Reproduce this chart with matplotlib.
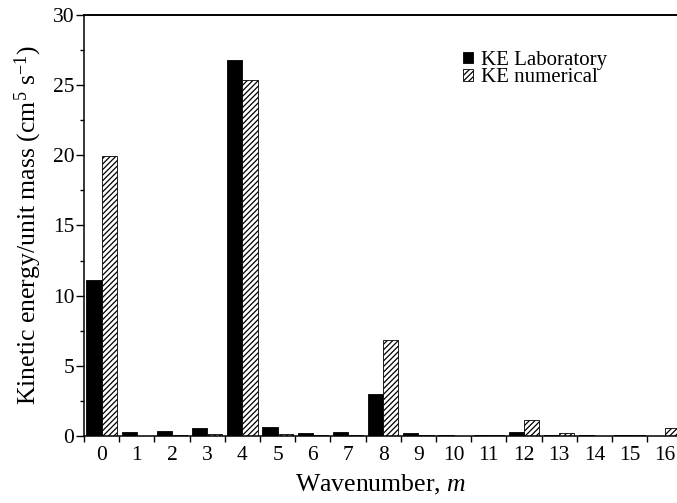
import matplotlib
matplotlib.use("Agg")
import matplotlib.pyplot as plt
import numpy as np
from matplotlib.ticker import MultipleLocator, FixedLocator

plt.rcParams["font.family"] = ["Liberation Serif", "DejaVu Serif"]
plt.rcParams["mathtext.fontset"] = "custom"
plt.rcParams["mathtext.rm"] = "Liberation Serif"
plt.rcParams["mathtext.it"] = "Liberation Serif:italic"
plt.rcParams["hatch.linewidth"] = 0.9

wavenumbers = list(range(17))
ke_laboratory = [11.1, 0.25, 0.35, 0.6, 26.8, 0.65, 0.2, 0.3, 3.0,
                 0.2, 0.1, 0.07, 0.25, 0.05, 0.08, 0.07, 0.02]
ke_numerical = [19.95, 0.03, 0.05, 0.12, 25.4, 0.12, 0.07, 0.1, 6.85,
                0.1, 0.03, 0.07, 1.12, 0.2, 0.02, 0.07, 0.55]

fig = plt.figure(figsize=(6.77, 5.03), dpi=100)
ax = fig.add_axes([84 / 677, 1 - 436 / 503, 1 - 84 / 677, (436 - 15) / 503])

x = np.array(wavenumbers)
w = 0.43
ax.bar(x - w / 2, ke_laboratory, width=w, color="black", edgecolor="black",
       linewidth=0.6, label="KE Laboratory")
ax.bar(x + w / 2, ke_numerical, width=w, color="white", edgecolor="black",
       linewidth=0.6, hatch="//////", label="KE numerical")

ax.set_xlim(-0.5, (677 - 84) / 35.2 - 0.5)
ax.set_ylim(0, 30)

ax.spines["right"].set_visible(False)
for s in ("left", "bottom"):
    ax.spines[s].set_linewidth(1.1)
ax.spines["top"].set_linewidth(1.4)

ax.set_xticks(wavenumbers)
ax.set_xticklabels([str(v) for v in wavenumbers])
ax.xaxis.set_minor_locator(FixedLocator(np.arange(-0.5, 17, 1.0)))
ax.tick_params(axis="x", which="major", length=0, pad=7, labelsize=15.5)
ax.tick_params(axis="x", which="minor", length=4, width=1, direction="out")

ax.yaxis.set_major_locator(MultipleLocator(5))
ax.yaxis.set_minor_locator(MultipleLocator(2.5))
ax.tick_params(axis="y", which="major", length=6, width=1, direction="out",
               labelsize=15.5, pad=1)
ax.tick_params(axis="y", which="minor", length=3, width=1, direction="out")

ax.set_xlabel("Wavenumber, $m$", fontsize=18.5, labelpad=6)
ax.set_ylabel("Kinetic energy/unit mass (cm$^5$ s$^{-1}$)", fontsize=18.5,
              labelpad=6)

leg = ax.legend(loc="upper left", bbox_to_anchor=((463 - 84) / 593, (436 - 51) / 421),
                frameon=False, fontsize=15, handlelength=0.48,
                handleheight=0.48, handletextpad=0.4, labelspacing=-0.08,
                borderpad=0.0, borderaxespad=0.0)

fig.savefig("out.png", dpi=100)
